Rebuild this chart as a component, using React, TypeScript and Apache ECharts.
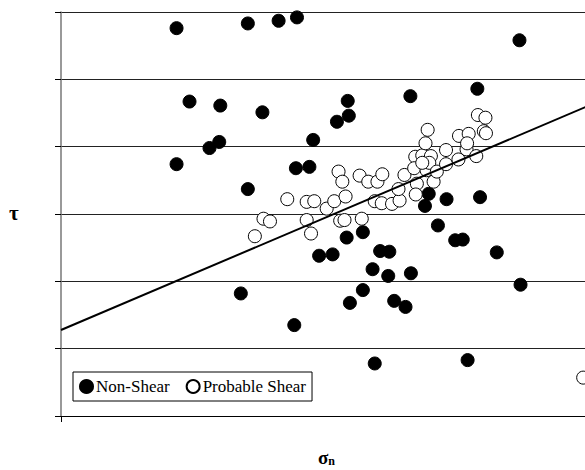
import React, { useEffect, useRef } from "react";
import * as echarts from "echarts";

// Non-Shear points [sigma_n, tau] (arbitrary units; x 0..100, y 0..6)
const nonShearX = [21.4, 34.6, 40.3, 43.7, 84.9, 23.8, 29.5, 37.3, 29.3, 27.5, 21.4, 43.5, 46.0, 34.6, 53.1, 53.3, 51.1, 64.7, 77.1, 46.7, 71.4, 77.6, 67.4, 68.1, 69.8, 52.9, 55.9, 73.0, 74.4, 33.3, 43.2, 47.8, 50.3, 59.1, 60.8, 57.7, 60.6, 64.8, 55.9, 53.5, 61.7, 63.8, 80.7, 85.1, 58.1, 75.3];
const nonShearY = [5.76, 5.83, 5.87, 5.92, 5.58, 4.67, 4.61, 4.51, 4.07, 3.98, 3.74, 3.68, 3.70, 3.37, 4.68, 4.46, 4.37, 4.75, 4.86, 4.10, 3.22, 3.25, 3.12, 3.30, 2.83, 2.65, 2.73, 2.61, 2.62, 1.82, 1.35, 2.38, 2.40, 2.45, 2.44, 2.18, 2.08, 2.12, 1.87, 1.68, 1.71, 1.62, 2.43, 1.95, 0.78, 0.83];

// Probable Shear points
const shearX = [41.9, 37.5, 38.7, 35.9, 45.5, 46.9, 45.5, 46.3, 49.2, 50.6, 52.7, 51.4, 52.1, 51.7, 52.5, 55.7, 55.3, 56.9, 58.6, 59.5, 58.1, 59.4, 61.3, 62.7, 62.5, 63.6, 65.6, 66.9, 67.5, 67.9, 65.4, 65.9, 65.7, 67.7, 69.0, 68.5, 68.2, 69.6, 71.3, 71.3, 73.7, 73.6, 75.1, 75.5, 75.2, 76.9, 77.2, 78.6, 78.3, 78.7, 96.7, 66.9];
const shearY = [3.22, 2.93, 2.89, 2.67, 3.18, 3.19, 2.91, 2.71, 3.08, 3.19, 3.26, 3.63, 3.48, 2.90, 2.91, 2.93, 3.57, 3.48, 3.48, 3.59, 3.19, 3.16, 3.15, 3.20, 3.37, 3.58, 3.85, 3.87, 4.05, 4.25, 3.68, 3.45, 3.29, 3.65, 3.48, 3.86, 3.76, 3.63, 3.95, 3.74, 4.16, 3.81, 3.96, 4.19, 4.05, 3.86, 4.47, 4.43, 4.23, 4.20, 0.57, 3.76];

// Fitted line endpoints
const fitX = [0, 100];
const fitY = [1.277, 4.686];

const seriesNames = ["Non-Shear", "Probable Shear"];
const FONT = "'Liberation Serif', 'Times New Roman', serif";

export default function App() {
  const ref = useRef<HTMLDivElement>(null);
  useEffect(() => {
    document.body.style.margin = "0";
    const chart = echarts.init(ref.current!, null, { renderer: "svg" });
    const zip = (xs: number[], ys: number[]) => xs.map((x, i) => [x, ys[i]]);
    chart.setOption({
      animation: false,
      backgroundColor: "#fff",
      grid: { left: 61, top: 12, width: 540, height: 404 },
      xAxis: {
        type: "value",
        min: 0,
        max: 100,
        interval: 100,
        axisLabel: { show: false },
        axisTick: { show: true, length: 6, lineStyle: { color: "#000" } },
        axisLine: { show: true, lineStyle: { color: "#000", width: 1 } },
        splitLine: { show: false },
      },
      yAxis: {
        type: "value",
        min: 0,
        max: 6,
        interval: 1,
        axisLabel: { show: false },
        axisTick: { show: true, length: 6, lineStyle: { color: "#000" } },
        axisLine: { show: true, lineStyle: { color: "#777", width: 1.5 } },
        splitLine: { show: true, lineStyle: { color: "#222", width: 1 } },
      },
      legend: {
        data: seriesNames,
        left: 73,
        top: 372,
        orient: "horizontal",
        itemWidth: 13,
        itemHeight: 13,
        itemGap: 16,
        padding: [6, 6, 6, 6],
        borderColor: "#000",
        borderWidth: 1,
        icon: "circle",
        textStyle: { fontFamily: FONT, fontSize: 17, color: "#000", padding: [0, 0, 0, -2] },
      },
      graphic: [
        {
          type: "text",
          left: 9,
          top: 202,
          style: { text: "τ", font: `bold 21px ${FONT}`, fill: "#000" },
        },
        {
          type: "text",
          left: 318,
          top: 448,
          style: {
            text: "{a|σ}{b|n}",
            rich: {
              a: { fontFamily: FONT, fontWeight: "bold", fontSize: 19, fill: "#000" },
              b: { fontFamily: FONT, fontWeight: "bold", fontSize: 12, fill: "#000", verticalAlign: "bottom", padding: [6, 0, 0, 0] },
            },
          },
        },
      ],
      series: [
        {
          name: seriesNames[0],
          type: "scatter",
          symbol: "circle",
          symbolSize: 13,
          data: zip(nonShearX, nonShearY),
          itemStyle: { color: "#000", borderColor: "#000", borderWidth: 1, opacity: 1 },
        },
        {
          name: seriesNames[1],
          type: "scatter",
          symbol: "circle",
          symbolSize: 13,
          data: zip(shearX, shearY),
          itemStyle: { color: "#fff", borderColor: "#000", borderWidth: 1, opacity: 1 },
        },
        {
          name: "fit",
          type: "line",
          data: zip(fitX, fitY),
          symbol: "none",
          silent: true,
          lineStyle: { color: "#000", width: 2 },
        },
      ],
    });
    return () => chart.dispose();
  }, []);
  return (
    <div style={{ width: 585, height: 470, overflow: "hidden" }}>
      <div ref={ref} style={{ width: 605, height: 470 }} />
    </div>
  );
}
